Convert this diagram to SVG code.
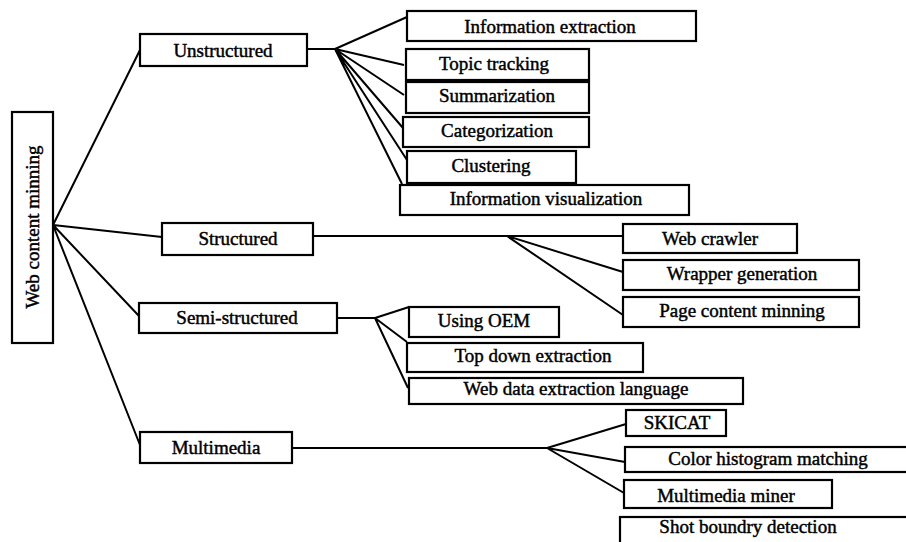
<svg xmlns="http://www.w3.org/2000/svg" width="906" height="542" viewBox="0 0 906 542">
<style>
.b{fill:#fff;stroke:#000;stroke-width:2.2}
.t{font-family:"Liberation Serif","Times New Roman",serif;font-size:19px;text-anchor:middle;fill:#000;stroke:#000;stroke-width:0.45}
.c{fill:none;stroke:#000;stroke-width:2}
</style>
<rect width="906" height="542" fill="#fff"/>
<g id="connectors" class="c">
<path d="M53,225L140,50M53,225L162,237M53,225L139,316M53,225L140,445"/>
<path d="M307,49H335M335,49L407,17M335,49L404,65M335,49L404,95M335,49L403,128M335,49L407,160M335,49L402,184"/>
<path d="M313,236H623M507,236L623,272M507,236L623,315"/>
<path d="M337,318H375M375,318L409,307M375,318L407,342M375,318L408,388"/>
<path d="M292,448H547M547,448L626,424M547,448L625,462M547,448L624,493"/>
</g>
<g id="root"><rect class="b" x="12" y="112" width="41" height="231"/><text class="t" transform="translate(39,227) rotate(-90)">Web content minning</text></g>
<g id="unstructured"><rect class="b" x="140" y="34" width="167" height="32"/><text class="t" x="223" y="57">Unstructured</text></g>
<g id="information-extraction"><rect class="b" x="407" y="11" width="289" height="30"/><text class="t" x="550" y="33">Information extraction</text></g>
<g id="topic-tracking"><rect class="b" x="406" y="49" width="183" height="31"/><text class="t" x="494" y="70">Topic tracking</text></g>
<g id="summarization"><rect class="b" x="406" y="82" width="183" height="31"/><text class="t" x="497" y="102">Summarization</text></g>
<g id="categorization"><rect class="b" x="403" y="117" width="186" height="30"/><text class="t" x="497" y="137">Categorization</text></g>
<g id="clustering"><rect class="b" x="407" y="151" width="169" height="32"/><text class="t" x="491" y="172">Clustering</text></g>
<g id="information-visualization"><rect class="b" x="400" y="185" width="289" height="30"/><text class="t" x="546" y="205">Information visualization</text></g>
<g id="structured"><rect class="b" x="162" y="223" width="151" height="32"/><text class="t" x="238" y="245">Structured</text></g>
<g id="web-crawler"><rect class="b" x="623" y="224" width="174" height="29"/><text class="t" x="710" y="245">Web crawler</text></g>
<g id="wrapper-generation"><rect class="b" x="623" y="260" width="236" height="30"/><text class="t" x="742" y="280">Wrapper generation</text></g>
<g id="page-content-minning"><rect class="b" x="623" y="297" width="236" height="30"/><text class="t" x="742" y="317">Page content minning</text></g>
<g id="semi-structured"><rect class="b" x="139" y="303" width="198" height="30"/><text class="t" x="237" y="324">Semi-structured</text></g>
<g id="using-oem"><rect class="b" x="409" y="307" width="150" height="30"/><text class="t" x="484" y="327">Using OEM</text></g>
<g id="top-down-extraction"><rect class="b" x="407" y="343" width="236" height="29"/><text class="t" x="533" y="362">Top down extraction</text></g>
<g id="web-data-extraction-language"><rect class="b" x="409" y="378" width="334" height="26"/><text class="t" x="576" y="395">Web data extraction language</text></g>
<g id="multimedia"><rect class="b" x="140" y="432" width="152" height="31"/><text class="t" x="216" y="454">Multimedia</text></g>
<g id="skicat"><rect class="b" x="626" y="410" width="100" height="26"/><text class="t" x="677" y="429">SKICAT</text></g>
<g id="color-histogram-matching"><rect class="b" x="625" y="447" width="300" height="25"/><text class="t" x="768" y="465">Color histogram matching</text></g>
<g id="multimedia-miner"><rect class="b" x="624" y="480" width="208" height="28"/><text class="t" x="726" y="502">Multimedia miner</text></g>
<g id="shot-boundry-detection"><rect class="b" x="620" y="517" width="300" height="40"/><text class="t" x="748" y="533">Shot boundry detection</text></g>
</svg>
